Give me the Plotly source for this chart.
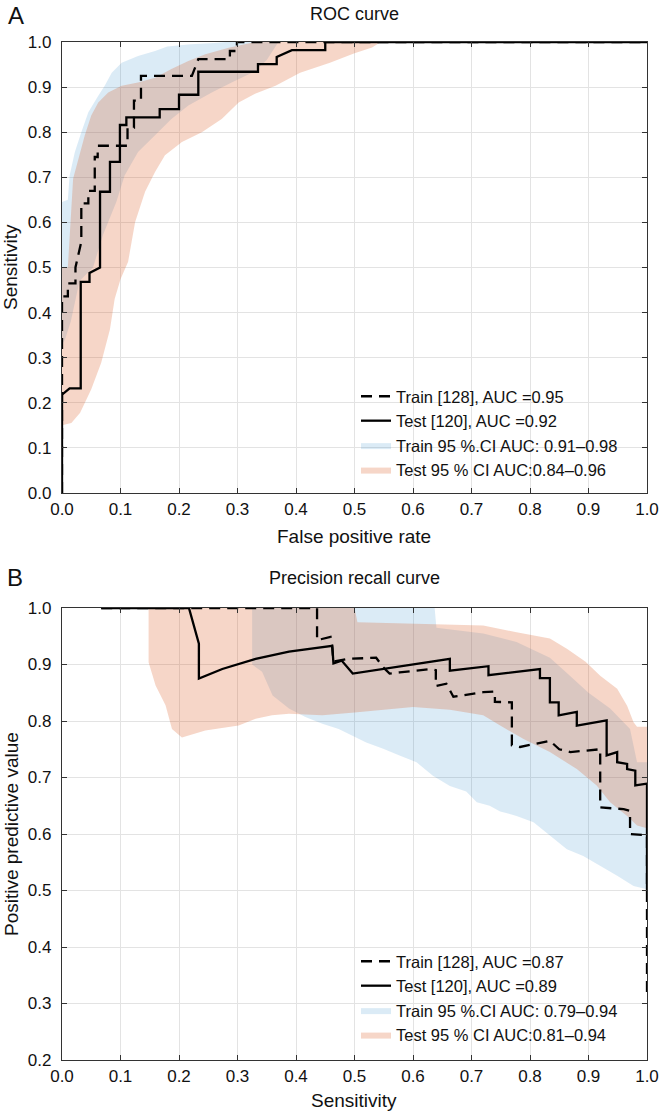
import plotly.graph_objects as go

# ---------------- A: ROC curve ----------------
fpr_train = [0, 0, 0.01, 0.01, 0.023, 0.023, 0.033, 0.033, 0.045, 0.045, 0.056, 0.056, 0.061, 0.061,
             0.112, 0.112, 0.123, 0.123, 0.135, 0.135, 0.222, 0.233, 0.287, 0.287, 0.299, 0.299, 1.0]
tpr_train = [0, 0.436, 0.436, 0.465, 0.465, 0.5, 0.557, 0.642, 0.642, 0.67, 0.67, 0.745, 0.745, 0.77,
             0.77, 0.81, 0.81, 0.87, 0.87, 0.925, 0.925, 0.962, 0.962, 0.98, 0.98, 1.0, 1.0]

fpr_test = [0, 0, 0.013, 0.032, 0.032, 0.047, 0.047, 0.065, 0.065, 0.082, 0.082, 0.099, 0.099, 0.11, 0.11,
            0.167, 0.167, 0.2, 0.2, 0.233, 0.233, 0.335, 0.335, 0.367, 0.367, 0.393, 0.45, 0.45, 1.0]
tpr_test = [0, 0.218, 0.232, 0.232, 0.468, 0.468, 0.488, 0.5, 0.668, 0.668, 0.734, 0.734, 0.816, 0.816, 0.833,
            0.833, 0.851, 0.851, 0.883, 0.883, 0.934, 0.934, 0.951, 0.951, 0.967, 0.982, 0.982, 1.0, 1.0]

# 95% CI bands (upper edge, lower edge)
roc_train_up_x = [0, 0.01, 0.013, 0.022, 0.033, 0.045, 0.062, 0.073, 0.085, 0.102, 0.13, 0.159, 0.18, 0.22, 0.26, 0.28, 1.0]
roc_train_up_y = [0.645, 0.65, 0.704, 0.756, 0.8, 0.844, 0.881, 0.903, 0.932, 0.954, 0.969, 0.98, 0.99, 0.995, 0.998, 1.0, 1.0]
roc_train_lo_x = [0, 0.005, 0.015, 0.03, 0.053, 0.07, 0.093, 0.107, 0.13, 0.159, 0.187, 0.216, 0.256, 0.29, 0.33, 0.35, 0.37, 1.0]
roc_train_lo_y = [0.33, 0.34, 0.38, 0.47, 0.5, 0.572, 0.646, 0.704, 0.756, 0.793, 0.829, 0.859, 0.888, 0.91, 0.935, 0.96, 1.0, 1.0]

roc_test_up_x = [0, 0.01, 0.019, 0.027, 0.039, 0.05, 0.062, 0.079, 0.102, 0.13, 0.159, 0.187, 0.216, 0.245, 0.285, 0.33, 1.0]
roc_test_up_y = [0.5, 0.5, 0.697, 0.734, 0.793, 0.837, 0.866, 0.888, 0.903, 0.91, 0.921, 0.94, 0.958, 0.973, 0.987, 1.0, 1.0]
roc_test_lo_x = [0, 0.016, 0.031, 0.05, 0.067, 0.082, 0.09, 0.1, 0.113, 0.125, 0.142, 0.159, 0.176, 0.205, 0.239,
                 0.273, 0.302, 0.33, 0.365, 0.407, 0.458, 0.5, 0.53, 0.545, 1.0]
roc_test_lo_y = [0.15, 0.155, 0.178, 0.23, 0.289, 0.363, 0.43, 0.474, 0.513, 0.601, 0.668, 0.712, 0.749, 0.778, 0.8,
                 0.829, 0.866, 0.885, 0.903, 0.932, 0.954, 0.975, 0.988, 1.0, 1.0]

# ---------------- B: Precision recall curve ----------------
rec_train = [0.067, 0.436, 0.436, 0.459, 0.462, 0.464, 0.49, 0.537, 0.549, 0.56, 0.577, 0.631, 0.639, 0.639,
             0.657, 0.663, 0.669, 0.72, 0.74, 0.74, 0.769, 0.769, 0.783, 0.834, 0.85, 0.869, 0.914, 0.92, 0.92,
             0.96, 0.971, 0.971, 0.997, 1.0, 1.0]
prec_train = [1.0, 1.0, 0.943, 0.949, 0.93, 0.905, 0.91, 0.912, 0.895, 0.884, 0.886, 0.892, 0.89, 0.862,
              0.866, 0.855, 0.843, 0.851, 0.852, 0.834, 0.833, 0.757, 0.754, 0.765, 0.75, 0.745, 0.75, 0.75, 0.647,
              0.644, 0.641, 0.6, 0.598, 0.598, 0.32]

rec_test = [0.067, 0.217, 0.234, 0.234, 0.274, 0.331, 0.388, 0.462, 0.464, 0.478, 0.497, 0.663, 0.663, 0.729,
            0.729, 0.817, 0.817, 0.834, 0.834, 0.849, 0.849, 0.88, 0.88, 0.931, 0.931, 0.949, 0.949, 0.966,
            0.966, 0.98, 0.98, 0.997, 1.0, 1.0]
prec_test = [1.0, 1.0, 0.937, 0.875, 0.892, 0.91, 0.923, 0.933, 0.902, 0.907, 0.884, 0.91, 0.889, 0.897,
             0.881, 0.892, 0.876, 0.876, 0.833, 0.833, 0.81, 0.816, 0.792, 0.801, 0.739, 0.745, 0.727, 0.724,
             0.715, 0.712, 0.686, 0.689, 0.689, 0.5]

pr_train_up_x = [0.325, 0.637, 0.64, 0.72, 0.777, 0.834, 0.863, 0.9, 0.937, 0.971, 0.983, 1.0]
pr_train_up_y = [1.0, 1.0, 0.965, 0.955, 0.94, 0.912, 0.885, 0.85, 0.822, 0.786, 0.727, 0.727]
pr_train_lo_x = [0.325, 0.342, 0.36, 0.388, 0.416, 0.445, 0.473, 0.5, 0.52, 0.549, 0.577, 0.606, 0.634, 0.663,
                 0.691, 0.709, 0.731, 0.749, 0.777, 0.806, 0.834, 0.863, 0.891, 0.92, 0.949, 0.977, 1.0]
pr_train_lo_y = [0.9, 0.887, 0.845, 0.822, 0.807, 0.795, 0.786, 0.772, 0.762, 0.751, 0.739, 0.727, 0.703, 0.685,
                 0.675, 0.656, 0.65, 0.64, 0.632, 0.621, 0.597, 0.573, 0.561, 0.544, 0.526, 0.508, 0.502]

pr_test_up_x = [0.148, 0.5, 0.505, 0.629, 0.72, 0.777, 0.834, 0.863, 0.895, 0.92, 0.949, 0.966, 0.977, 0.983, 1.0]
pr_test_up_y = [1.0, 1.0, 0.975, 0.972, 0.969, 0.957, 0.946, 0.928, 0.905, 0.88, 0.857, 0.827, 0.798, 0.79, 0.79]
pr_test_lo_x = [0.148, 0.16, 0.177, 0.188, 0.205, 0.245, 0.302, 0.331, 0.359, 0.388, 0.445, 0.5, 0.6, 0.663,
                0.72, 0.749, 0.789, 0.834, 0.88, 0.914, 0.937, 0.966, 0.983, 1.0]
pr_test_lo_y = [0.904, 0.863, 0.828, 0.786, 0.771, 0.783, 0.792, 0.804, 0.81, 0.813, 0.81, 0.815, 0.825, 0.82,
                0.81, 0.792, 0.768, 0.745, 0.715, 0.686, 0.656, 0.632, 0.615, 0.61]

roc_labels = ["Train [128], AUC =0.95", "Test [120], AUC =0.92",
              "Train 95 %.CI AUC: 0.91\u20130.98", "Test 95 % CI AUC:0.84\u20130.96"]
pr_labels = ["Train [128], AUC =0.87", "Test [120], AUC =0.89",
             "Train 95 %.CI AUC: 0.79\u20130.94", "Test 95 % CI AUC:0.81\u20130.94"]

BLUE = "rgba(0,114,189,0.14)"
ORANGE = "rgba(217,83,25,0.24)"
FONT = "Liberation Sans, Arial, sans-serif"
W, H = 662, 1113


def band(xu, yu, xl, yl, color, name, xa, ya, leg, rank):
    return go.Scatter(x=xu + xl[::-1], y=yu + yl[::-1], fill="toself", fillcolor=color,
                      mode="lines", line=dict(width=0, color=color), name=name,
                      xaxis=xa, yaxis=ya, legend=leg, legendrank=rank, hoverinfo="skip")


fig = go.Figure()
panels = [
    ("x", "y", "legend", roc_labels,
     (roc_train_up_x, roc_train_up_y, roc_train_lo_x, roc_train_lo_y),
     (roc_test_up_x, roc_test_up_y, roc_test_lo_x, roc_test_lo_y),
     (fpr_train, tpr_train), (fpr_test, tpr_test)),
    ("x2", "y2", "legend2", pr_labels,
     (pr_train_up_x, pr_train_up_y, pr_train_lo_x, pr_train_lo_y),
     (pr_test_up_x, pr_test_up_y, pr_test_lo_x, pr_test_lo_y),
     (rec_train, prec_train), (rec_test, prec_test)),
]
for xa, ya, leg, labels, b_train, b_test, c_train, c_test in panels:
    fig.add_trace(band(*b_train, BLUE, labels[2], xa, ya, leg, 3))
    fig.add_trace(band(*b_test, ORANGE, labels[3], xa, ya, leg, 4))
    fig.add_trace(go.Scatter(x=c_train[0], y=c_train[1], mode="lines", name=labels[0],
                             line=dict(color="black", width=2.3, dash="11px,7px"),
                             xaxis=xa, yaxis=ya, legend=leg, legendrank=1))
    fig.add_trace(go.Scatter(x=c_test[0], y=c_test[1], mode="lines", name=labels[1],
                             line=dict(color="black", width=2.3),
                             xaxis=xa, yaxis=ya, legend=leg, legendrank=2))

dom_x = [62 / W, 647 / W]
axis_style = dict(showgrid=True, gridcolor="#e3e3e3", gridwidth=1, showline=True, linecolor="#333333",
                  linewidth=1.3, mirror="ticks", ticks="inside", ticklen=5, tickcolor="#333333",
                  tickformat=".1f", dtick=0.1, zeroline=False, automargin=False,
                  tickfont=dict(size=17, color="#111111", family=FONT))
x_style = dict(axis_style, ticklabelstandoff=0)
y_style = dict(axis_style, ticklabelstandoff=6)

fig.update_layout(
    width=W, height=H, margin=dict(l=0, r=0, t=0, b=0, autoexpand=False),
    paper_bgcolor="white", plot_bgcolor="white",
    font=dict(family=FONT, color="#111111"),
    xaxis=dict(domain=dom_x, range=[0, 1], anchor="y", **x_style),
    yaxis=dict(domain=[1 - 493 / H, 1 - 42 / H], range=[0, 1], anchor="x", **y_style),
    xaxis2=dict(domain=dom_x, range=[0, 1], anchor="y2", **x_style),
    yaxis2=dict(domain=[1 - 1060 / H, 1 - 608 / H], range=[0.2, 1.0], anchor="x2", **y_style),
    legend=dict(x=356 / W, y=1 - 379 / H, xanchor="left", yanchor="top", bgcolor="rgba(0,0,0,0)",
                font=dict(size=16.5, family=FONT), traceorder="normal"),
    legend2=dict(x=356 / W, y=1 - 944 / H, xanchor="left", yanchor="top", bgcolor="rgba(0,0,0,0)",
                 font=dict(size=16.5, family=FONT), traceorder="normal"),
)

texts = [
    ("A", 16, 15, 24, 0), ("B", 15, 577, 24, 0),
    ("ROC curve", 354, 14, 18, 0), ("Precision recall curve", 354, 578, 18, 0),
    ("False positive rate", 354, 536, 19, 0), ("Sensitivity", 354, 1100, 19, 0),
    ("Sensitivity", 11, 267, 19, -90), ("Positive predictive value", 11, 834, 19, -90),
]
for t, px, py, size, ang in texts:
    fig.add_annotation(text=t, x=px / W, y=1 - py / H, xref="paper", yref="paper",
                       xanchor="center", yanchor="middle", showarrow=False, textangle=ang,
                       font=dict(size=size, family=FONT, color="#111111"))

fig.write_html("out.html", config={"displayModeBar": False},
               post_script="document.body.style.margin='0';")
